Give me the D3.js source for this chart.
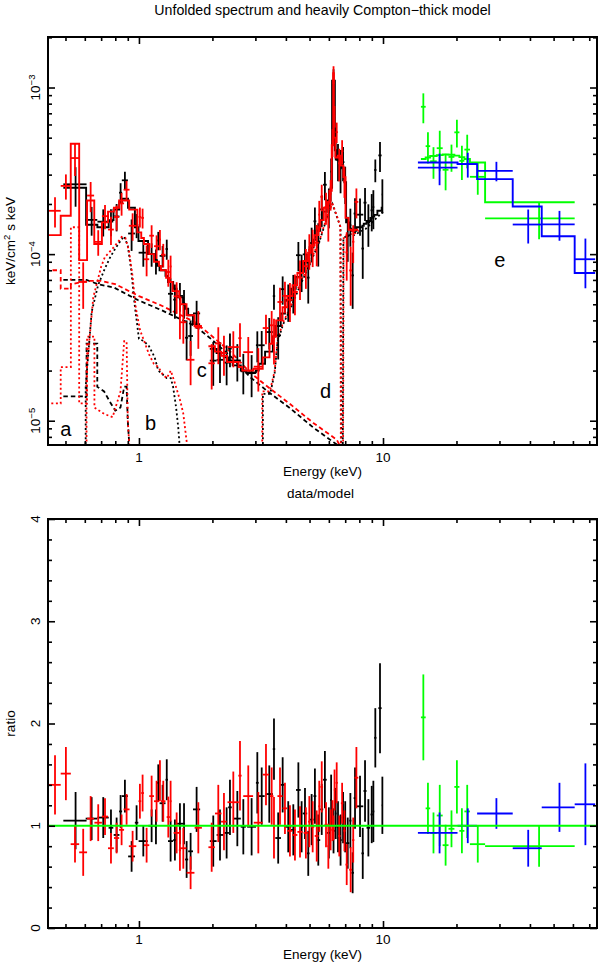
<!DOCTYPE html>
<html><head><meta charset="utf-8">
<script src="https://cdn.jsdelivr.net/npm/d3@7"></script>
<style>
body{margin:0;background:#fff}
text{font-family:"Liberation Sans",Arial,Helvetica,sans-serif;fill:#000}
</style>
</head><body>
<svg id="c" width="600" height="965"></svg>
<script>
// ---------------- DATA ----------------
const xDomain = [0.424, 75.3];
const fluxDomain = [7.15e-6, 2.01e-3];
const ratioDomain = [0, 4];
const xMajorTicks = [1, 10];
const xTickLabels = ['1', '10'];
const xMinorTicks = [0.5,0.6,0.7,0.8,0.9,2,3,4,5,6,7,8,9,20,30,40,50,60,70];
const fluxMajorTicks = [1e-5, 1e-4, 1e-3];
const fluxTickExps = ['\u22125', '\u22124', '\u22123'];
const ratioMajorTicks = [0, 1, 2, 3, 4];
const ratioTickLabels = ['0', '1', '2', '3', '4'];

// black (EPIC) : energy centre, half-width (keV), data/model ratio, ratio error, model (1e-4 keV/cm2 s keV)
const blackE = [0.55,0.64,0.714,0.768,0.81,0.841,0.876,0.933,0.978,1.042,1.127,1.174,1.20,1.25,1.30,1.348,1.404,1.472,1.53,1.568,1.628,1.723,2.016,2.148,2.287,2.36,2.53,2.677,2.895,3.055,3.184,3.42,3.575,3.72,3.88,4.09,4.29,4.50,4.64,4.79,4.94,5.10,5.26,5.43,5.61,5.78,6.00,6.13,6.27,6.40,6.54,6.70,6.86,7.00,7.17,7.35,7.51,7.68,8.05,8.26,8.44,8.71,8.99,9.13,9.30,9.72,9.94];
const blackDE = [0.06,0.035,0.038,0.017,0.022,0.012,0.025,0.03,0.016,0.045,0.035,0.012,0.014,0.035,0.015,0.033,0.023,0.045,0.015,0.023,0.037,0.058,0.065,0.067,0.05,0.04,0.085,0.065,0.12,0.04,0.09,0.12,0.04,0.1,0.08,0.12,0.09,0.1,0.05,0.1,0.06,0.1,0.07,0.1,0.08,0.1,0.12,0.05,0.08,0.05,0.09,0.07,0.09,0.06,0.11,0.07,0.09,0.1,0.25,0.1,0.12,0.15,0.1,0.08,0.1,0.15,0.06];
const blackRatio = [1.05,1.07,1.08,0.98,0.91,1.14,1.29,0.70,1.03,0.85,1.00,0.99,1.42,1.22,1.45,0.85,0.86,1.02,1.02,0.67,0.75,1.16,0.85,0.91,0.93,1.18,1.07,0.99,0.99,1.42,1.29,1.31,1.75,0.88,1.40,0.99,0.96,1.35,0.99,1.12,0.73,1.06,1.29,0.86,1.16,1.45,0.93,1.25,0.95,1.12,0.99,0.86,1.08,0.99,0.83,1.05,0.54,1.27,1.19,0.73,1.34,0.98,1.11,1.14,1.86,2.15,1.20];
const blackRatioErr = [0.28,0.21,0.20,0.18,0.17,0.16,0.16,0.15,0.17,0.15,0.16,0.17,0.18,0.18,0.20,0.20,0.20,0.20,0.20,0.18,0.18,0.22,0.25,0.25,0.25,0.27,0.27,0.27,0.28,0.30,0.28,0.28,0.30,0.25,0.27,0.25,0.25,0.27,0.25,0.25,0.22,0.25,0.27,0.25,0.25,0.28,0.25,0.25,0.22,0.25,0.25,0.25,0.25,0.25,0.25,0.27,0.20,0.30,0.30,0.25,0.30,0.28,0.28,0.30,0.29,0.44,0.28];
const blackModel = [2.50,1.50,1.45,1.60,1.85,2.05,2.15,1.90,1.45,1.20,1.00,0.92,0.85,0.80,0.74,0.68,0.62,0.55,0.50,0.47,0.43,0.38,0.27,0.255,0.24,0.23,0.215,0.20,0.195,0.20,0.22,0.26,0.32,0.37,0.44,0.53,0.62,0.73,0.80,0.89,0.99,1.10,1.22,1.38,1.60,1.80,2.10,2.50,11.0,4.20,3.70,3.80,3.30,2.70,1.55,1.42,1.38,1.38,1.45,1.48,1.52,1.58,1.65,1.68,1.72,1.82,1.90];

// red (EPIC)
const redE = [0.453,0.502,0.547,0.591,0.634,0.681,0.726,0.768,0.81,0.849,0.89,0.942,1.009,1.035,1.075,1.127,1.181,1.219,1.258,1.319,1.348,1.427,1.472,1.52,1.628,1.751,1.986,2.114,2.23,2.436,2.594,2.805,3.084,3.315,3.498,3.575,3.784,3.965,4.156,4.357,4.57,4.83,4.99,5.15,5.35,5.48,5.61,5.84,5.97,6.10,6.21,6.27,6.33,6.46,6.62,6.80,6.95,7.10,7.37,7.55,7.78];
const redDE = [0.025,0.024,0.022,0.022,0.021,0.024,0.021,0.021,0.02,0.02,0.025,0.033,0.013,0.013,0.027,0.025,0.028,0.012,0.027,0.02,0.012,0.04,0.015,0.045,0.06,0.06,0.06,0.065,0.06,0.13,0.04,0.13,0.13,0.1,0.06,0.03,0.09,0.09,0.1,0.1,0.11,0.1,0.06,0.08,0.1,0.05,0.07,0.08,0.05,0.06,0.04,0.02,0.04,0.07,0.08,0.08,0.07,0.08,0.1,0.08,0.14];
const redRatio = [1.40,1.51,0.82,0.74,1.07,1.03,1.09,0.78,0.88,0.96,1.16,0.80,1.24,1.32,0.81,1.29,1.24,1.44,1.24,1.085,1.24,0.93,0.76,0.78,0.54,0.98,0.79,1.12,1.04,1.23,1.49,1.29,1.03,1.50,1.29,0.98,1.29,1.17,0.95,0.91,0.94,0.93,1.04,0.99,0.90,1.19,1.38,1.01,0.80,0.96,1.05,0.98,1.35,1.42,0.90,1.22,0.95,0.62,0.57,0.86,1.47];
const redRatioErr = [0.29,0.26,0.18,0.23,0.22,0.18,0.18,0.15,0.15,0.15,0.15,0.15,0.17,0.18,0.17,0.20,0.20,0.20,0.20,0.20,0.20,0.20,0.20,0.20,0.16,0.25,0.24,0.28,0.28,0.30,0.34,0.30,0.30,0.30,0.28,0.30,0.28,0.25,0.25,0.25,0.25,0.25,0.25,0.25,0.25,0.25,0.25,0.22,0.22,0.20,0.20,0.12,0.20,0.20,0.20,0.20,0.20,0.20,0.22,0.22,0.30];
const redModel = [1.30,1.70,4.60,0.92,2.10,1.15,1.55,1.80,1.90,2.10,2.10,1.85,1.35,1.25,1.15,1.00,0.90,0.85,0.80,0.72,0.68,0.60,0.55,0.50,0.43,0.37,0.28,0.26,0.245,0.225,0.21,0.20,0.205,0.24,0.29,0.32,0.40,0.48,0.56,0.65,0.77,0.91,1.02,1.13,1.30,1.45,1.60,1.90,2.05,2.40,4.50,12.2,5.0,3.8,3.9,3.4,2.9,1.65,1.40,1.38,1.40];

// green (PIN)
const pinE = [14.63,15.28,16.1,17.08,18.05,19.08,20.08,21.05,22.13,24.45,43.6];
const pinDE = [0.33,0.33,0.5,0.48,0.5,0.53,0.48,0.5,0.58,1.75,17.4];
const pinRatio = [2.06,1.17,0.93,1.10,0.81,0.97,1.38,0.95,1.14,0.82,0.80];
const pinRatioErr = [0.42,0.25,0.2,0.3,0.2,0.18,0.26,0.22,0.26,0.18,0.2];
const pinModel = [3.72,3.80,3.88,3.93,3.96,3.95,3.90,3.82,3.72,3.55,2.05];

// blue (BAT)
const batE = [17.05,22.25,29.15,39.35,52.85,67.5];
const batDE = [3.15,2.05,4.85,5.35,8.15,6.5];
const batRatio = [0.93,1.0,1.12,0.78,1.18,1.21];
const batRatioErr = [0.2,0.17,0.15,0.18,0.24,0.4];
const batModel = [3.55,3.47,2.82,1.93,1.28,0.77];

// model components [energy keV, keV/cm2 s keV]
const compPLBlack = [[0.49,7.0e-5],[0.61,7.0e-5],[0.68,6.6e-5],[0.79,6.3e-5],[0.99,5.3e-5],[1.24,4.6e-5],[1.7,3.7e-5],[2.0,3.05e-5],[2.4,2.4e-5],[2.85,1.83e-5],[3.33,1.52e-5],[4.16,1.19e-5],[5.18,9.1e-6],[6.46,7.2e-6],[6.9,6.2e-6]];
const compPLRed = [[0.428,8.0e-5],[0.478,8.0e-5],[0.478,6.2e-5],[0.526,6.2e-5],[0.526,6.6e-5],[0.62,6.9e-5],[0.7,6.9e-5],[0.8,6.6e-5],[1.0,5.6e-5],[1.24,4.9e-5],[1.7,3.9e-5],[2.0,3.2e-5],[2.4,2.55e-5],[2.85,1.95e-5],[3.33,1.62e-5],[4.16,1.26e-5],[5.18,9.7e-6],[6.46,7.7e-6],[6.9,6.4e-6]];
const compHotBlack = [[0.605,6.0e-6],[0.605,1.6e-5],[0.64,4.5e-5],[0.68,6.5e-5],[0.72,8.0e-5],[0.76,9.5e-5],[0.8,1.08e-4],[0.84,1.2e-4],[0.87,1.28e-4],[0.9,1.12e-4],[0.93,8.0e-5],[0.96,5.0e-5],[1.0,3.1e-5],[1.05,3.0e-5],[1.1,2.8e-5],[1.16,2.4e-5],[1.2,2.0e-5],[1.25,1.9e-5],[1.3,1.8e-5],[1.35,1.8e-5],[1.38,1.6e-5],[1.42,1.2e-5],[1.45,9.0e-6],[1.48,6.0e-6]];
const compHotRed = [[0.61,6.0e-6],[0.61,2.0e-5],[0.65,5.5e-5],[0.7,8.4e-5],[0.725,9.6e-5],[0.78,1.08e-4],[0.82,1.18e-4],[0.85,1.27e-4],[0.88,1.25e-4],[0.91,1.05e-4],[0.94,7.5e-5],[0.97,4.8e-5],[1.01,3.5e-5],[1.06,2.9e-5],[1.1,2.5e-5],[1.15,2.2e-5],[1.2,2.1e-5],[1.25,1.9e-5],[1.3,1.8e-5],[1.35,2.0e-5],[1.4,1.7e-5],[1.48,1.3e-5],[1.52,1.1e-5],[1.56,8.0e-6],[1.6,6.0e-6]];
const compCoolBlack = [[0.49,1.4e-5],[0.61,1.4e-5],[0.61,2.9e-5],[0.675,2.9e-5],[0.675,1.6e-5],[0.72,1.5e-5],[0.76,1.3e-5],[0.8,1.15e-5],[0.84,1.2e-5],[0.87,1.6e-5],[0.89,1.6e-5],[0.9,1.0e-5],[0.92,6.0e-6]];
const compCoolRed = [[0.428,1.27e-5],[0.478,1.27e-5],[0.478,2.1e-5],[0.526,2.1e-5],[0.526,1.45e-4],[0.569,1.45e-4],[0.569,1.27e-5],[0.613,1.27e-5],[0.613,3.2e-5],[0.657,3.2e-5],[0.657,1.2e-5],[0.72,1.1e-5],[0.78,1.05e-5],[0.84,1.5e-5],[0.87,3.0e-5],[0.89,3.0e-5],[0.9,1.0e-5],[0.92,6.0e-6]];
const compReflBlack = [[3.22,6.0e-6],[3.22,1.45e-5],[3.45,1.45e-5],[3.6,1.95e-5],[3.7,3.0e-5],[3.9,3.8e-5],[4.2,4.8e-5],[4.6,6.6e-5],[5.0,8.6e-5],[5.5,1.2e-4],[6.0,1.8e-4],[6.2,2.0e-4],[6.45,1.7e-4],[6.7,1.45e-4],[6.74,6.0e-6]];
const compReflRed = [[3.2,6.0e-6],[3.2,1.5e-5],[3.44,1.5e-5],[3.6,2.0e-5],[3.7,3.1e-5],[3.9,3.9e-5],[4.2,4.9e-5],[4.6,6.8e-5],[5.0,8.8e-5],[5.5,1.22e-4],[6.0,1.82e-4],[6.2,2.02e-4],[6.45,1.72e-4],[6.68,1.47e-4],[6.72,6.0e-6]];
const compTransBlack = [[6.84,6.0e-6],[6.88,1.25e-4],[7.2,1.3e-4],[7.6,1.3e-4],[8.5,1.42e-4],[9.3,1.62e-4],[10.0,1.8e-4]];
const compTransRed = [[6.86,6.0e-6],[6.9,1.27e-4],[7.2,1.32e-4],[7.6,1.32e-4],[8.0,1.38e-4]];

const letterLabels = ['a','b','c','d','e'];
const letterE = [0.502, 1.115, 1.81, 5.82, 30.1];
const letterFlux = [8.1e-6, 8.8e-6, 1.83e-5, 1.37e-5, 8.37e-5];

// ---------------- DRAW ----------------
const svg = d3.select('#c');
const X0 = 48, X1 = 597;
const T0 = 37, T1 = 445, B0 = 519, B1 = 928;
const x = d3.scaleLog().domain(xDomain).range([X0, X1]);
const yF = d3.scaleLog().domain(fluxDomain).range([T1, T0]);
const yR = d3.scaleLinear().domain(ratioDomain).range([B1, B0]);

const defs = svg.append('defs');
defs.append('clipPath').attr('id','clipT').append('rect').attr('x',X0).attr('y',T0).attr('width',X1-X0).attr('height',T1-T0);
defs.append('clipPath').attr('id','clipB').append('rect').attr('x',X0).attr('y',B0).attr('width',X1-X0).attr('height',B1-B0);

const gT = svg.append('g').attr('clip-path','url(#clipT)');
const gB = svg.append('g').attr('clip-path','url(#clipB)');

function drawComp(pts, color, dash, offset, width) {
  gT.append('path').datum(pts)
    .attr('d', d3.line().x(d => x(d[0])).y(d => yF(d[1])))
    .attr('fill','none').attr('stroke',color).attr('stroke-width',width||1.8)
    .attr('stroke-dasharray',dash).attr('stroke-dashoffset',offset||0);
}
const DOT = '2,2.6', DASH = '4.5,3';
drawComp(compPLBlack,'#000',DASH,0);
drawComp(compPLRed,'#f00',DASH,4);
drawComp(compCoolBlack,'#000',DASH,0);
drawComp(compCoolRed,'#f00',DOT,2.3);
drawComp(compHotBlack,'#000',DOT,0);
drawComp(compHotRed,'#f00',DOT,2.3);
drawComp(compReflBlack,'#000',DOT,0);
drawComp(compReflRed,'#f00',DOT,2.3);
drawComp(compTransBlack,'#000',DOT,0);
drawComp(compTransRed,'#f00',DOT,2.3);

function nOf(...arrs){ return Math.min(...arrs.map(a=>a.length)); }

function drawData(g, E, DE, R, RE, M, color, yS, flux) {
  const n = nOf(E,DE,R,RE,M);
  const idx = d3.range(n);
  const val = i => flux ? R[i]*M[i]*1e-4 : R[i];
  const er = i => flux ? RE[i]*M[i]*1e-4 : RE[i];
  const floor = flux ? 1e-7 : -1;
  const gg = g.append('g').attr('stroke',color).attr('stroke-width',1.8);
  gg.selectAll('line.h').data(idx).join('line').attr('class','h')
    .attr('x1',i=>x(E[i]-DE[i])).attr('x2',i=>x(E[i]+DE[i]))
    .attr('y1',i=>yS(val(i))).attr('y2',i=>yS(val(i)));
  gg.selectAll('line.v').data(idx).join('line').attr('class','v')
    .attr('x1',i=>x(E[i])).attr('x2',i=>x(E[i]))
    .attr('y1',i=>yS(Math.max(val(i)-er(i),floor))).attr('y2',i=>yS(val(i)+er(i)));
}

function drawModel(E, DE, M, color) {
  const n = nOf(E,DE,M);
  const segs = d3.range(n).map(i => ({lo:E[i]-DE[i], hi:E[i]+DE[i], v:M[i]*1e-4, brk:false}));
  for (let i=1;i<n;i++){
    const p = segs[i-1], s = segs[i];
    if (s.lo/p.hi > 1.04) { s.brk = true; }
    else { const b = Math.sqrt(p.hi*s.lo); p.hi = b; s.lo = b; }
  }
  const pts = [];
  segs.forEach((s,i)=>{ if (i>0 && s.brk) pts.push(null); pts.push([s.lo,s.v]); pts.push([s.hi,s.v]); });
  gT.append('path').datum(pts)
    .attr('d', d3.line().defined(d=>d!==null).x(d=>x(d[0])).y(d=>yF(d[1])))
    .attr('fill','none').attr('stroke',color).attr('stroke-width',1.9);
}

// top panel
drawData(gT, blackE, blackDE, blackRatio, blackRatioErr, blackModel, '#000', yF, true);
drawModel(blackE, blackDE, blackModel, '#000');
drawData(gT, redE, redDE, redRatio, redRatioErr, redModel, '#f00', yF, true);
drawModel(redE, redDE, redModel, '#f00');
drawData(gT, pinE, pinDE, pinRatio, pinRatioErr, pinModel, '#00ff00', yF, true);
drawModel(pinE, pinDE, pinModel, '#00ff00');
drawData(gT, batE, batDE, batRatio, batRatioErr, batModel, '#0000ff', yF, true);
drawModel(batE, batDE, batModel, '#0000ff');

// letters
letterLabels.forEach((t,i)=>{
  svg.append('text').attr('x',x(letterE[i])).attr('y',yF(letterFlux[i]))
    .attr('text-anchor','middle').attr('font-size',20).text(t);
});

// bottom panel
drawData(gB, blackE, blackDE, blackRatio, blackRatioErr, blackModel, '#000', yR, false);
drawData(gB, redE, redDE, redRatio, redRatioErr, redModel, '#f00', yR, false);
drawData(gB, pinE, pinDE, pinRatio, pinRatioErr, pinModel, '#00ff00', yR, false);
drawData(gB, batE, batDE, batRatio, batRatioErr, batModel, '#0000ff', yR, false);
gB.append('line').attr('x1',X0).attr('x2',X1).attr('y1',yR(1)).attr('y2',yR(1))
  .attr('stroke','#00ff00').attr('stroke-width',2);

// axes / ticks
function ticks(axisFn, scale, values, size, tx, ty) {
  svg.append('g').attr('transform',`translate(${tx},${ty})`)
    .call(axisFn(scale).tickValues(values).tickSize(size).tickFormat(''))
    .call(s=>s.select('.domain').remove())
    .selectAll('line').attr('stroke','#000').attr('stroke-width',1.6);
}
const fluxMinor = [];
[-6,-5,-4,-3].forEach(p=>{ for(let k=2;k<=9;k++){ const v=k*Math.pow(10,p); if(v>fluxDomain[0]&&v<fluxDomain[1]) fluxMinor.push(v);} });
const ratioMinor = d3.range(0,4.001,0.2).filter(v=>Math.abs(v-Math.round(v))>1e-6);

[[T0,T1,yF,fluxMajorTicks,fluxMinor],[B0,B1,yR,ratioMajorTicks,ratioMinor]].forEach(([a,b,ys,maj,mnr])=>{
  ticks(d3.axisBottom, x, xMajorTicks, -7, 0, b);
  ticks(d3.axisBottom, x, xMinorTicks, -4, 0, b);
  ticks(d3.axisTop, x, xMajorTicks, -7, 0, a);
  ticks(d3.axisTop, x, xMinorTicks, -4, 0, a);
  ticks(d3.axisLeft, ys, maj, -7, X0, 0);
  ticks(d3.axisLeft, ys, mnr, -4, X0, 0);
  ticks(d3.axisRight, ys, maj, -7, X1, 0);
  ticks(d3.axisRight, ys, mnr, -4, X1, 0);
  svg.append('rect').attr('x',X0).attr('y',a).attr('width',X1-X0).attr('height',b-a)
    .attr('fill','none').attr('stroke','#000').attr('stroke-width',2);
});

// tick labels
xMajorTicks.forEach((v,i)=>{
  svg.append('text').attr('x',x(v)).attr('y',462).attr('text-anchor','middle').attr('font-size',13.5).text(xTickLabels[i]);
  svg.append('text').attr('x',x(v)).attr('y',944).attr('text-anchor','middle').attr('font-size',13.5).text(xTickLabels[i]);
});
fluxMajorTicks.forEach((v,i)=>{
  const yy = yF(v);
  const t = svg.append('text').attr('transform',`translate(39.5,${yy}) rotate(-90)`)
    .attr('text-anchor','middle').attr('font-size',13.5);
  t.append('tspan').text('10');
  t.append('tspan').attr('font-size',9.5).attr('dy',-5).text(fluxTickExps[i]);
});
ratioMajorTicks.forEach((v,i)=>{
  svg.append('text').attr('transform',`translate(39.5,${yR(v)}) rotate(-90)`)
    .attr('text-anchor','middle').attr('font-size',13.5).text(ratioTickLabels[i]);
});

// titles
const cx = (X0+X1)/2;
svg.append('text').attr('x',cx).attr('y',15).attr('text-anchor','middle').attr('font-size',14.2)
  .text('Unfolded spectrum and heavily Compton\u2212thick model');
svg.append('text').attr('x',cx).attr('y',476).attr('text-anchor','middle').attr('font-size',13.5).text('Energy (keV)');
svg.append('text').attr('x',cx-2).attr('y',498).attr('text-anchor','middle').attr('font-size',13.5).text('data/model');
svg.append('text').attr('x',cx).attr('y',959).attr('text-anchor','middle').attr('font-size',13.5).text('Energy (keV)');
const yl = svg.append('text').attr('transform',`translate(15,${(T0+T1)/2}) rotate(-90)`)
  .attr('text-anchor','middle').attr('font-size',13.5);
yl.append('tspan').text('keV/cm');
yl.append('tspan').attr('font-size',9.5).attr('dy',-5).text('2');
yl.append('tspan').attr('dy',5).text(' s keV');
svg.append('text').attr('transform',`translate(15,${(B0+B1)/2}) rotate(-90)`)
  .attr('text-anchor','middle').attr('font-size',13.5).text('ratio');
</script>
</body></html>
